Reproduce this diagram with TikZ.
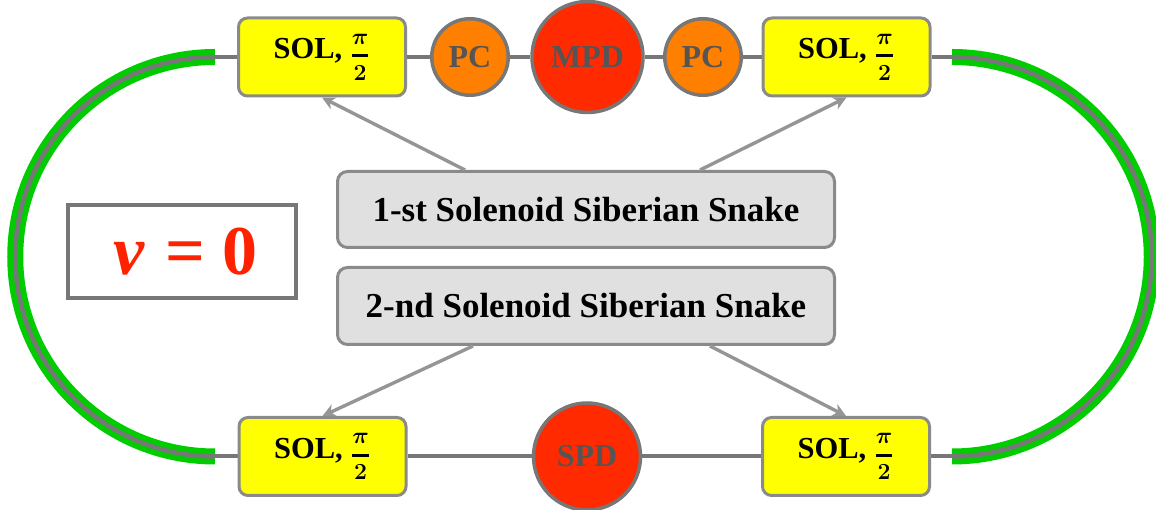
\documentclass[tikz,border=0pt]{standalone}
\usepackage{amsmath}
\usepackage{fontspec}
\setmainfont{Liberation Serif}
\usetikzlibrary{arrows.meta,backgrounds}
\definecolor{solyel}{HTML}{FFFF00}
\definecolor{pcorange}{HTML}{FF7F00}
\definecolor{detred}{HTML}{FF2A00}
\definecolor{ringgreen}{HTML}{00CC00}
\definecolor{linegray}{HTML}{777777}
\definecolor{bordgray}{HTML}{8A8A8A}
\definecolor{snakefill}{HTML}{E0E0E0}
\definecolor{textgray}{HTML}{555555}
\definecolor{arrgray}{HTML}{959595}
\definecolor{nured}{HTML}{FF2200}
\newcommand{\solhalf}{SOL, \raisebox{-0.08em}{\scalebox{1.6}{\fontsize{15}{18}\selectfont$\genfrac{}{}{1.7pt}{0}{\pi}{2}$}}}
\begin{document}
\begin{tikzpicture}[x=1pt,y=1pt,
  solbox/.style={draw=bordgray, line width=3pt, fill=solyel, rounded corners=9pt,
    minimum width=167pt, minimum height=78pt, inner sep=0pt,
    font=\fontsize{30.5}{36}\selectfont\bfseries\boldmath},
  det/.style={circle, draw=linegray, line width=3.5pt, inner sep=0pt, text=textgray,
    font=\fontsize{32}{38}\selectfont\bfseries},
  snakebox/.style={draw=bordgray, line width=3pt, fill=snakefill, rounded corners=10pt,
    minimum width=497pt, minimum height=76pt, inner sep=0pt,
    font=\fontsize{35}{42}\selectfont\bfseries},
  arr/.style={draw=arrgray, line width=3.4pt, -{Stealth[length=13pt,width=13pt,inset=4pt]}},
  beamline/.style={draw=linegray, line width=4pt},
  greenring/.style={draw=ringgreen, line width=16pt},
  grayring/.style={draw=linegray, line width=4.5pt}]
\useasboundingbox (0,0) rectangle (1156,510);

% coordinates of beam line ends
\coordinate (lt) at (215,453);
\coordinate (rt) at (952,453);
\coordinate (lb) at (215,53.5);
\coordinate (rb) at (952,53.5);

% nodes
\node[solbox] (sol1) at (322,453) {\solhalf};
\node[solbox] (sol2) at (846.5,453) {\solhalf};
\node[solbox] (sol3) at (322.5,53.5) {\solhalf};
\node[solbox] (sol4) at (846,53.5) {\solhalf};

\node[det, fill=pcorange, minimum size=76.5pt] (pc1) at (470,453) {PC};
\node[det, fill=detred, minimum size=111pt] (mpd) at (587.5,453) {MPD};
\node[det, fill=pcorange, minimum size=76.5pt] (pc2) at (703,453) {PC};
\node[det, fill=detred, minimum size=107pt] (spd) at (587,53.5) {SPD};

\node[snakebox] (snake1) at (586,300.5) {1-st Solenoid Siberian Snake};
\node[snakebox, minimum height=77pt] (snake2) at (586,204) {2-nd Solenoid Siberian Snake};

\node[draw=linegray, line width=4pt, fill=white, minimum width=228pt, minimum height=93pt,
  inner sep=0pt, text=nured, font=\fontsize{70}{80}\selectfont\bfseries] (nu) at (182,258.5)
  {\hspace{0.1em}{\itshape v}\hspace{0.3em}=\hspace{0.25em}0};

% background: ring and beam lines
\begin{scope}[on background layer]
  \draw[greenring] (lt) arc[start angle=90, end angle=270, radius=199.75];
  \draw[greenring] (rt) arc[start angle=90, end angle=-90, radius=199.75];
  \draw[grayring] (lt) arc[start angle=90, end angle=270, radius=199.75];
  \draw[grayring] (rt) arc[start angle=90, end angle=-90, radius=199.75];
  \draw[beamline] (lt) -- (sol1) -- (pc1) -- (mpd) -- (pc2) -- (sol2) -- (rt);
  \draw[beamline] (lb) -- (sol3) -- (spd) -- (sol4) -- (rb);
\end{scope}

% arrows
\draw[arr] ([xshift=-121pt]snake1.north) -- (sol1.south);
\draw[arr] ([xshift=114pt]snake1.north) -- (sol2.south);
\draw[arr] ([xshift=-113pt]snake2.south) -- (sol3.north);
\draw[arr] ([xshift=124pt]snake2.south) -- (sol4.north);
\end{tikzpicture}
\end{document}
